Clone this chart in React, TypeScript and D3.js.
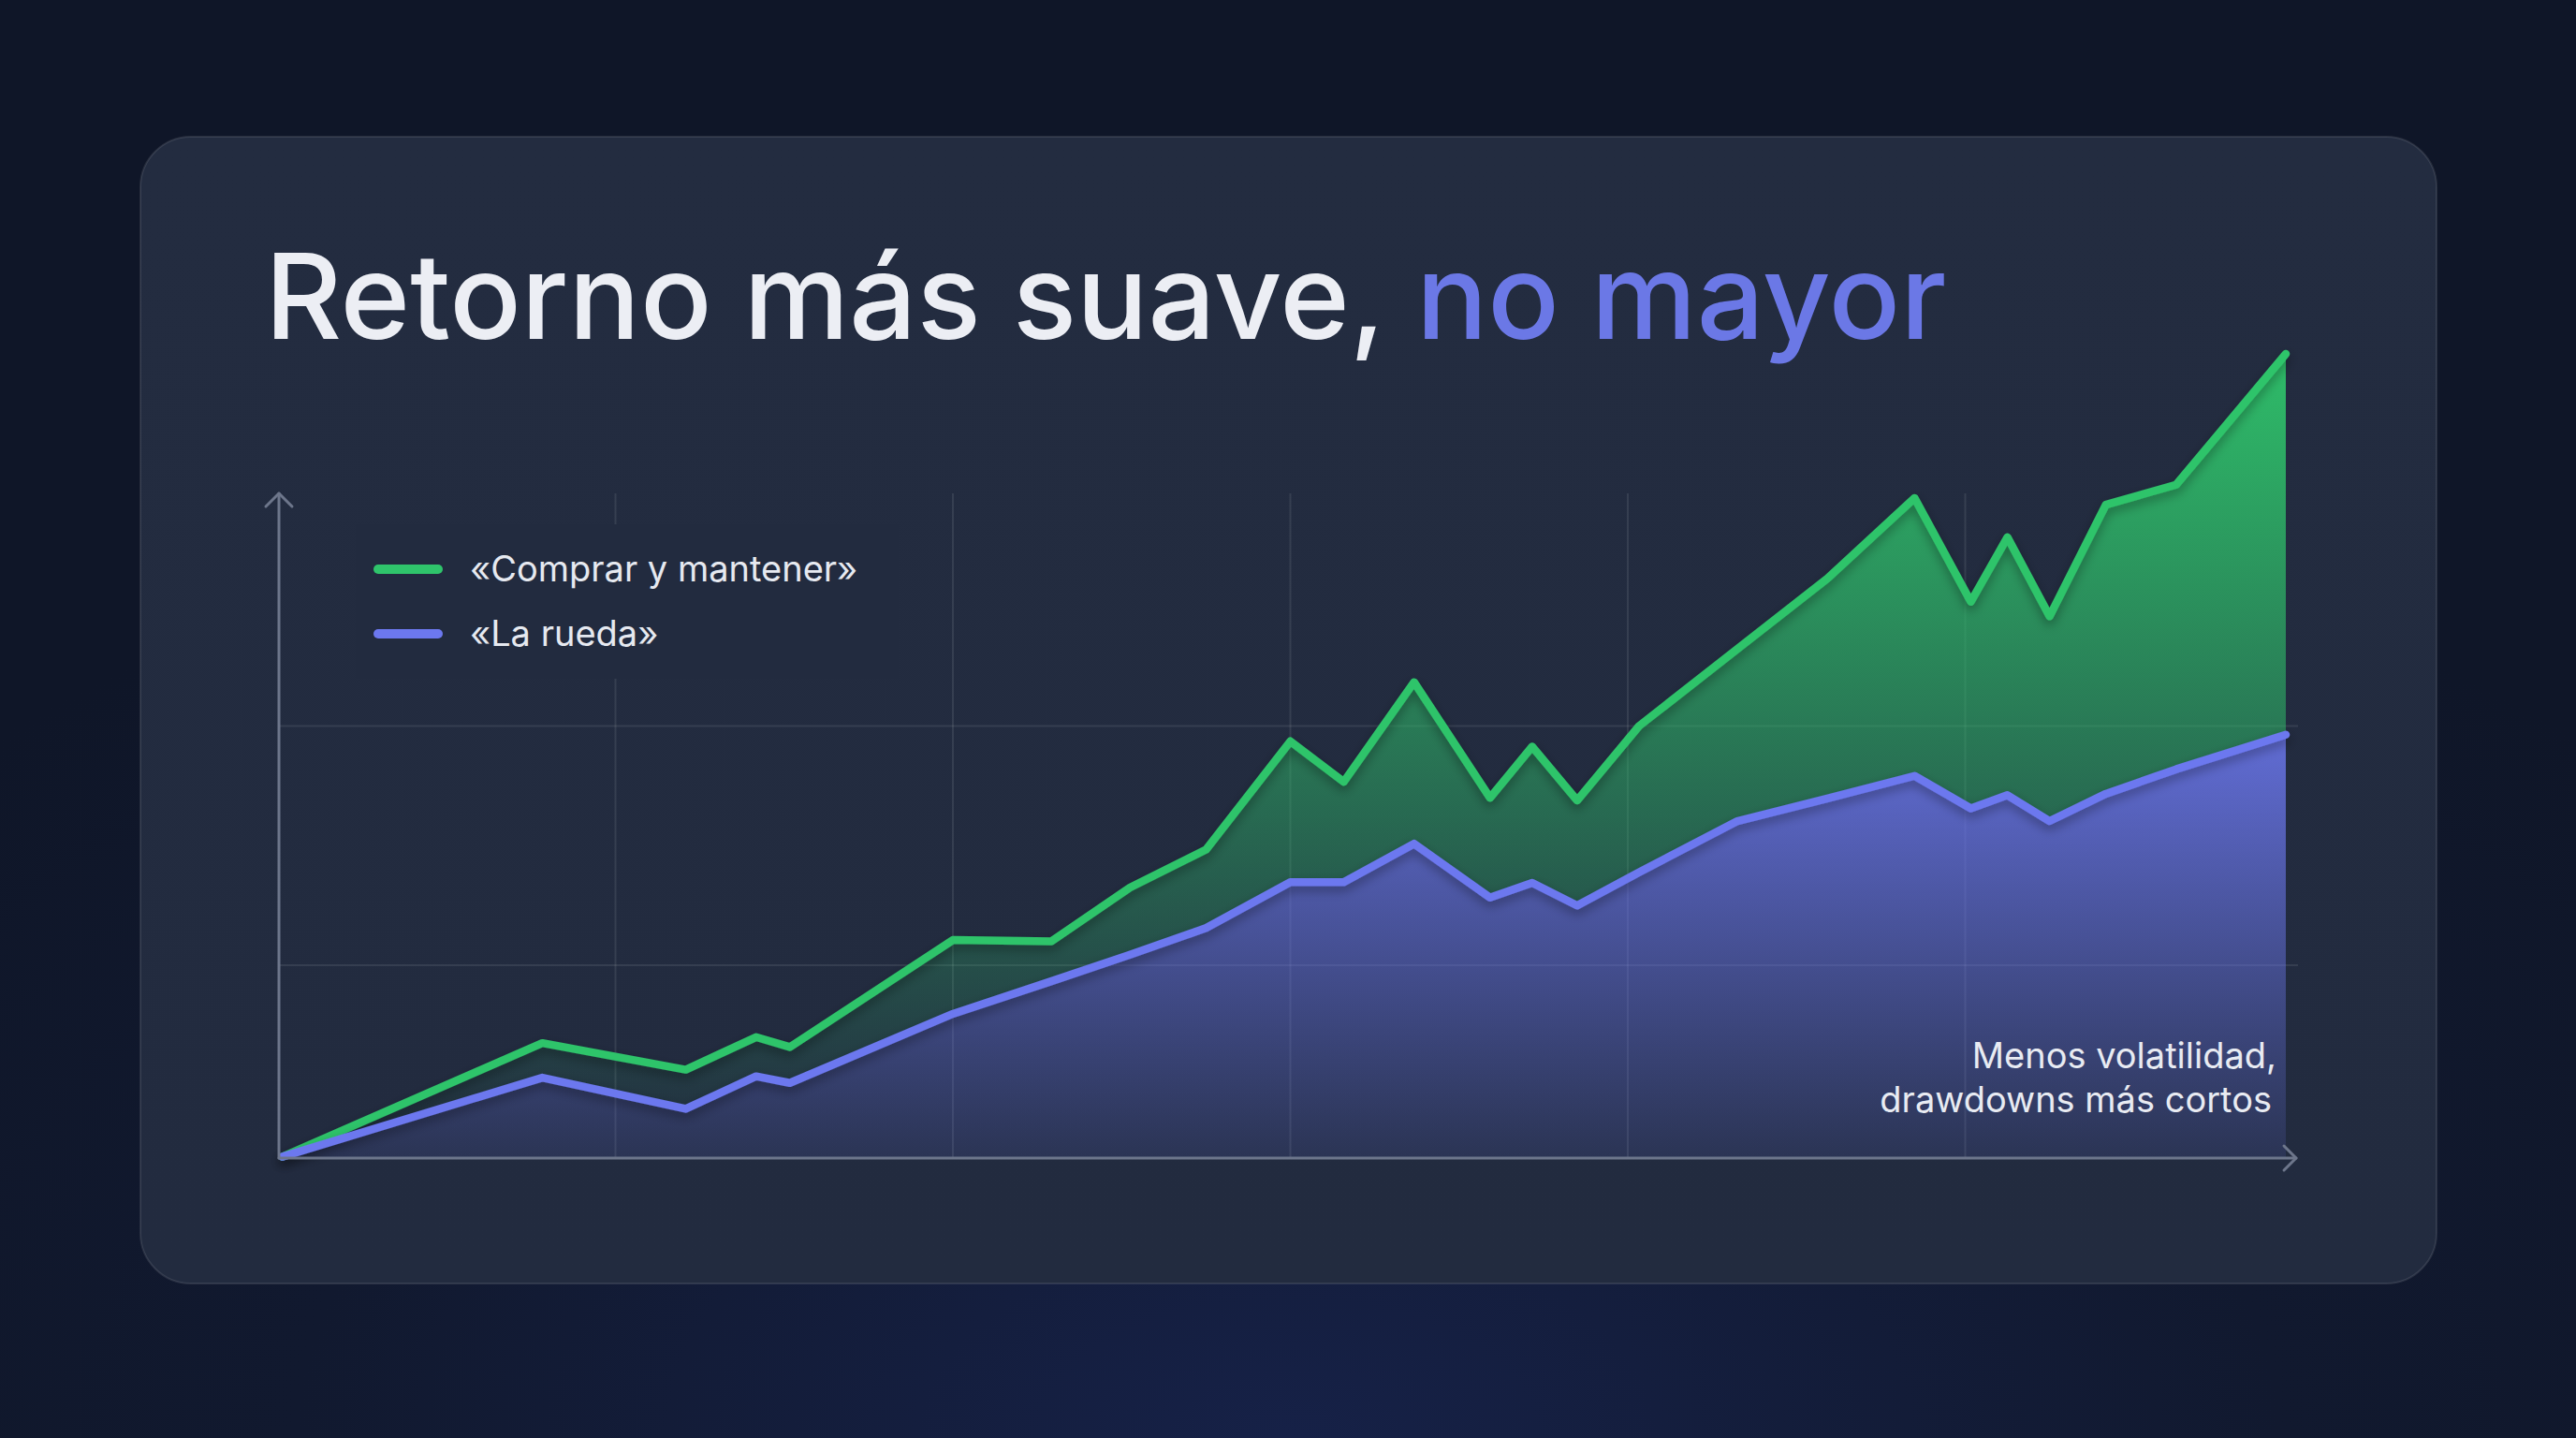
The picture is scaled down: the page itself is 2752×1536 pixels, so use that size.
import React from "react";
import * as d3 from "d3";

const width = 2752;
const height = 1536;
const green = "#2fc46b";
const blue = "#6c78ef";
const card = "#222b3f";

// months since start
const months = [0.15, 9.4, 14.5, 17, 18.2, 24, 27.5, 30.3, 33, 36, 37.9, 40.4, 43.1, 44.6, 46.2, 48.4, 51.9, 55.1, 58.2, 60.2, 61.5, 63, 65, 67.5, 71.4];
// «Comprar y mantener»
const buyHold = [0.2, 17.3, 13.3, 18.2, 16.7, 32.8, 32.6, 40.7, 46.4, 62.7, 56.6, 71.6, 54.2, 61.9, 53.8, 65, 76.6, 87.2, 99.3, 83.7, 93.4, 81.5, 98.3, 101.3, 121];
// «La rueda»
const wheel = [0.2, 12.1, 7.4, 12.3, 11.3, 21.7, 26.6, 30.6, 34.6, 41.5, 41.5, 47.3, 39.2, 41.4, 38, 43, 50.7, 54.1, 57.5, 52.6, 54.6, 50.7, 54.8, 58.5, 63.7];

const xGrid = [12, 24, 36, 48, 60];
const yGrid = [29, 65];
const legendLabels = ["«Comprar y mantener»", "«La rueda»"];
const noteLines = ["Menos volatilidad,", "drawdowns más cortos"];

const xScale = d3.scaleLinear().domain([0, 72]).range([297, 2460]);
const yScale = d3.scaleLinear().domain([0, 100]).range([1237, 527]);

const points = months.map((m, i) => ({ m, g: buyHold[i], w: wheel[i] }));

const greenLine = d3.line<any>().x(d => xScale(d.m)).y(d => yScale(d.g))(points);
const blueLine = d3.line<any>().x(d => xScale(d.m)).y(d => yScale(d.w))(points);
const gapArea = d3
  .area<any>()
  .x(d => xScale(d.m))
  .y0(d => yScale(d.w))
  .y1(d => yScale(d.g))(points);
const blueArea = d3
  .area<any>()
  .x(d => xScale(d.m))
  .y0(yScale(0))
  .y1(d => yScale(d.w))(points);

export default function App() {
  const x0 = 298;
  const y0 = yScale(0);
  const xEnd = 2453;
  const yTop = yScale(100);
  const font = "Inter, 'Noto Sans', sans-serif";

  return (
    <>
      <style>{`body{margin:0;background:#10172a}`}</style>
      <svg width={width} height={height} style={{ display: "block" }}>
        <defs>
          <radialGradient id="bg" cx="50%" cy="100%" r="70%">
            <stop offset="0%" stopColor="#162147" />
            <stop offset="55%" stopColor="#11192f" />
            <stop offset="100%" stopColor="#0f1628" />
          </radialGradient>
          <linearGradient id="cardFill" x1="0" y1="0" x2="0" y2="1">
            <stop offset="0%" stopColor="#232c40" />
            <stop offset="100%" stopColor="#222b3f" />
          </linearGradient>
          <linearGradient id="gFill" gradientUnits="userSpaceOnUse" x1="0" y1={yScale(121)} x2="0" y2={y0}>
            <stop offset="0%" stopColor={green} stopOpacity={0.95} />
            <stop offset="100%" stopColor={green} stopOpacity={0} />
          </linearGradient>
          <linearGradient id="bFill" gradientUnits="userSpaceOnUse" x1="0" y1={yScale(64)} x2="0" y2={y0}>
            <stop offset="0%" stopColor={blue} stopOpacity={0.85} />
            <stop offset="100%" stopColor={blue} stopOpacity={0.12} />
          </linearGradient>
          <filter id="shadow" x="-10%" y="-10%" width="120%" height="130%">
            <feDropShadow dx="0" dy="5" stdDeviation="6" floodColor="#000" floodOpacity="0.35" />
          </filter>
        </defs>

        <rect width={width} height={height} fill="url(#bg)" />
        <rect x={150} y={146} width={2453} height={1225} rx={54} fill="url(#cardFill)" stroke="#ffffff" strokeOpacity={0.1} strokeWidth={2} />

        <text x={283} y={362} fontFamily={font} fontSize={127} fontWeight={500} fill="#eceef4">
          Retorno más suave, <tspan fill="#6b78e6">no mayor</tspan>
        </text>

        {/* grid */}
        {xGrid.map(m => (
          <line key={m} x1={xScale(m)} x2={xScale(m)} y1={yTop} y2={y0} stroke="#ffffff" strokeOpacity={0.09} strokeWidth={2} />
        ))}
        {yGrid.map(v => (
          <line key={v} x1={x0} x2={2455} y1={yScale(v)} y2={yScale(v)} stroke="#ffffff" strokeOpacity={0.09} strokeWidth={2} />
        ))}

        {/* areas */}
        <path d={gapArea} fill="url(#gFill)" />
        <path d={blueArea} fill="url(#bFill)" />

        {/* lines */}
        <path d={greenLine} fill="none" stroke={green} strokeWidth={8.5} strokeLinejoin="round" strokeLinecap="round" filter="url(#shadow)" />
        <path d={blueLine} fill="none" stroke={blue} strokeWidth={8.5} strokeLinejoin="round" strokeLinecap="round" filter="url(#shadow)" />

        {/* axes */}
        <g stroke="#6d768b" strokeWidth={3} fill="none" strokeLinecap="round" strokeLinejoin="round">
          <line x1={x0} y1={y0} x2={x0} y2={yTop} />
          <polyline points={`${x0 - 14},${yTop + 14} ${x0},${yTop} ${x0 + 14},${yTop + 14}`} />
          <line x1={x0} y1={y0} x2={xEnd} y2={y0} />
          <polyline points={`${xEnd - 13},${y0 - 13} ${xEnd},${y0} ${xEnd - 13},${y0 + 13}`} />
        </g>

        {/* legend */}
        <rect x={380} y={560} width={580} height={165} fill={card} />
        {legendLabels.map((label, i) => (
          <g key={label} transform={`translate(0, ${608 + i * 69})`}>
            <line x1={404} x2={468} y1={0} y2={0} stroke={i === 0 ? green : blue} strokeWidth={10} strokeLinecap="round" />
            <text x={502} y={13} fontFamily={font} fontSize={38} fill="#e6e9f0">
              {label}
            </text>
          </g>
        ))}

        {/* note */}
        {noteLines.map((t, i) => (
          <text key={t} x={2432 - i * 5} y={1141 + i * 47} textAnchor="end" fontFamily={font} fontSize={38} fill="#e8ebf2">
            {t}
          </text>
        ))}
      </svg>
    </>
  );
}
